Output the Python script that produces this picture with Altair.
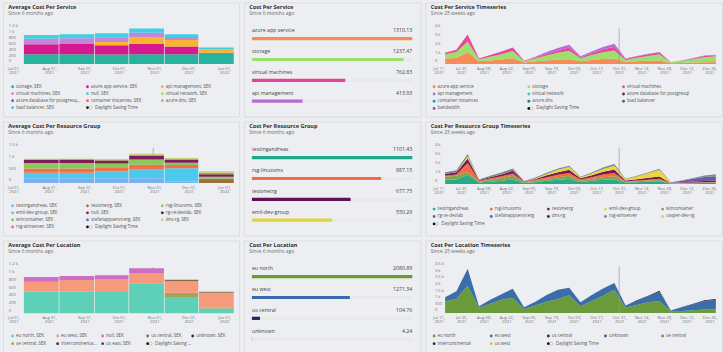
import math
import altair as alt
import pandas as pd

FONT = "Open Sans"
TITLE_C = "#2e2e2e"
SUB_C = "#6c6c6c"
LABEL_C = "#555555"
AXIS_C = "#707070"
DST_NAME = "Daylight Saving Time"

# ---------------- time keys ----------------
BAR_START = ["2021-07-10", "2021-08-10", "2021-09-10", "2021-10-10", "2021-11-10", "2021-12-10"]
BAR_END = ["2021-08-10", "2021-09-10", "2021-10-10", "2021-11-10", "2021-12-10", "2022-01-10"]
MONTH_TICKS = ["2021-07-01", "2021-08-01", "2021-09-01", "2021-10-01", "2021-11-01", "2021-12-01", "2022-01-01"]
WEEKS = ["2021-07-15", "2021-07-22", "2021-07-29", "2021-08-05", "2021-08-12", "2021-08-19", "2021-08-26",
         "2021-09-02", "2021-09-09", "2021-09-16", "2021-09-23", "2021-09-30", "2021-10-07", "2021-10-14",
         "2021-10-21", "2021-10-28", "2021-11-04", "2021-11-11", "2021-11-18", "2021-11-25", "2021-12-02",
         "2021-12-09", "2021-12-16", "2021-12-23", "2021-12-30"]
BIWEEK_TICKS = ["2021-07-11", "2021-07-25", "2021-08-08", "2021-08-22", "2021-09-05", "2021-09-19", "2021-10-03",
                "2021-10-17", "2021-10-31", "2021-11-14", "2021-11-28", "2021-12-12", "2021-12-26"]
DST_DATE = "2021-10-31"

# ---------------- Panel A: Average Cost Per Service ----------------
A_SERIES = ["storage, SEK", "azure app service, SEK", "api management, SEK", "virtual machines, SEK", "null, SEK"]
A_STORAGE = [330, 330, 320, 330, 330, 350]
A_APP_SERVICE = [330, 340, 305, 340, 260, 30]
A_API_MGMT = [0, 0, 115, 215, 215, 105]
A_VMS = [190, 195, 160, 160, 100, 0]
A_NULL = [125, 135, 135, 145, 90, 65]
A_LEGEND = ["storage, SEK", "azure app service, SEK", "api management, SEK", "virtual machines, SEK",
            "null, SEK", "virtual network, SEK", "azure database for postgresql, SEK",
            "container instances, SEK", "azure dns, SEK", "load balancer, SEK", DST_NAME]
A_COLORS = ["#28b39f", "#d5198f", "#f9b62c", "#c784dc", "#3fd0e3", "#9be36b", "#a53dbf",
            "#f7663e", "#f88c6f", "#36c9cc", "#111111"]
A_YTICKS = [0, 200, 400, 600, 800, 1000, 1200]

# ---------------- Panel B: Cost Per Service ----------------
B_NAMES = ["azure app service", "storage", "virtual machines", "api management"]
B_VALUES = [1310.13, 1237.47, 762.83, 413.93]
B_COLORS = ["#f98b5b", "#9ddf6b", "#e2449c", "#bb69d3"]

# ---------------- Panel C: Cost Per Service Timeseries ----------------
C_SERIES = ["azure app service", "storage", "virtual machines", "api management"]
C_APP_SERVICE = [600, 670, 1330, 300, 400, 500, 650, 170, 300, 400, 500, 520, 300, 450, 550, 600, 200, 300, 350, 400, 80, 120, 170, 200, 220]
C_STORAGE = [480, 670, 1190, 200, 400, 600, 800, 120, 300, 550, 750, 960, 350, 550, 750, 900, 250, 400, 550, 700, 70, 200, 350, 550, 630]
C_VMS = [180, 260, 780, 100, 200, 300, 400, 80, 100, 200, 280, 370, 100, 200, 350, 440, 100, 150, 200, 200, 30, 50, 100, 130, 100]
C_API_MGMT = [0, 0, 0, 0, 0, 0, 0, 0, 100, 180, 270, 300, 100, 200, 250, 320, 50, 50, 50, 30, 0, 30, 50, 80, 90]
C_LEGEND = ["azure app service", "storage", "virtual machines", "api management", "virtual network",
            "azure database for postgresql", "container instances", "azure dns", "load balancer",
            "bandwidth", DST_NAME]
C_COLORS = ["#f98b5b", "#9ddf6b", "#e5489e", "#bb69d3", "#3fc9c1", "#7a1458", "#1a9e9e",
            "#17807a", "#3d7a2c", "#9a4ab8", "#111111"]
C_YTICKS = [0, 1000, 2000, 3000, 4000]

# ---------------- Panel D: Average Cost Per Resource Group ----------------
D_SERIES = ["testvnetrg, SEK", "testingandreas, SEK", "emil-dev-group, SEK", "rsg-winserver, SEK",
            "rsg-linuxvms, SEK", "null, SEK", "wincontainer, SEK", "dns-rg, SEK"]
D_TESTVNETRG = [0, 0, 0, 0, 0, 180]
D_TESTINGANDREAS = [195, 195, 195, 195, 60, 0]
D_EMIL_DEV = [235, 235, 300, 380, 560, 0]
D_RSG_WINSERVER = [180, 180, 140, 200, 140, 0]
D_RSG_LINUXVMS = [235, 235, 190, 220, 100, 80]
D_NULL = [140, 140, 130, 160, 120, 110]
D_WINCONTAINER = [25, 30, 40, 50, 40, 70]
D_DNS_RG = [15, 15, 20, 35, 40, 55]
D_LEGEND = ["testingandreas, SEK", "testvnetrg, SEK", "rsg-linuxvms, SEK", "emil-dev-group, SEK",
            "null, SEK", "rg-ce-devlab, SEK", "wincontainer, SEK", "stefanappservicerg, SEK",
            "dns-rg, SEK", "rsg-winserver, SEK", DST_NAME]
D_COLORS = ["#7aaff2", "#9c6f3c", "#8cc95b", "#4dc9ec", "#801b5c", "#2a2446", "#a3b52a", "#4f6fd0",
            "#c3d172", "#f2704a", "#111111"]
D_YTICKS = [0, 500, 1000, 1500]

# ---------------- Panel E: Cost Per Resource Group ----------------
E_NAMES = ["testingandreas", "rsg-linuxvms", "testvnetrg", "emil-dev-group"]
E_VALUES = [1101.43, 887.15, 677.75, 550.29]
E_COLORS = ["#1fa98b", "#f46b45", "#5c1452", "#e2d535"]

# ---------------- Panel F: Cost Per Resource Group Timeseries ----------------
F_SERIES = ["testingandreas", "wincontainer", "rsg-linuxvms", "testvnetrg", "emil-dev-group",
            "rg-ce-devlab", "rsg-winserver"]
F_TESTINGANDREAS = [450, 500, 1000, 150, 250, 350, 500, 100, 200, 350, 450, 550, 200, 350, 450, 500, 150, 200, 250, 300, 30, 60, 80, 100, 100]
F_WINCONTAINER = [350, 400, 300, 100, 200, 300, 400, 80, 150, 200, 300, 350, 150, 200, 300, 350, 80, 100, 120, 150, 20, 30, 40, 50, 60]
F_RSG_LINUXVMS = [100, 150, 1000, 100, 150, 200, 250, 50, 100, 200, 250, 300, 150, 200, 300, 350, 50, 80, 100, 120, 20, 30, 40, 50, 50]
F_TESTVNETRG = [200, 250, 500, 80, 150, 200, 300, 50, 100, 200, 300, 350, 120, 200, 300, 400, 100, 150, 200, 250, 40, 80, 100, 120, 150]
F_EMIL_DEV = [0, 0, 250, 0, 0, 0, 0, 0, 50, 150, 250, 300, 100, 200, 300, 400, 150, 300, 500, 750, 20, 0, 0, 0, 0]
F_RG_CE_DEVLAB = [0, 0, 0, 0, 0, 0, 0, 0, 0, 0, 0, 0, 0, 0, 0, 0, 0, 0, 0, 0, 30, 150, 300, 450, 500]
F_RSG_WINSERVER = [190, 200, 250, 70, 150, 200, 250, 50, 100, 130, 150, 150, 80, 100, 150, 180, 50, 70, 80, 100, 20, 50, 100, 150, 220]
F_LEGEND = ["testingandreas", "rsg-linuxvms", "testvnetrg", "emil-dev-group", "wincontainer",
            "rg-ce-devlab", "stefanappservicerg", "dns-rg", "rsg-winserver", "casper-dev-rg", DST_NAME]
F_COLORS = ["#2aa98b", "#f46b45", "#7c1a4e", "#ead83c", "#79a94a", "#6a5aa8", "#4e6ac4", "#3a1f4e",
            "#7d8a93", "#c9d94a", "#111111"]

# ---------------- Panel G: Average Cost Per Location ----------------
G_SERIES = ["eu north, SEK", "se central, SEK", "eu west, SEK", "null, SEK", "us central, SEK"]
G_EU_NORTH = [556, 556, 548, 775, 420, 120]
G_SE_CENTRAL = [0, 0, 0, 0, 110, 20]
G_EU_WEST = [260, 305, 340, 270, 300, 390]
G_NULL = [122, 105, 100, 120, 0, 0]
G_US_CENTRAL = [0, 0, 0, 0, 40, 25]
G_LEGEND = ["eu north, SEK", "eu west, SEK", "null, SEK", "us central, SEK", "unknown, SEK",
            "se central, SEK", "intercontinental, SEK", "us east, SEK", DST_NAME]
G_COLORS = ["#5fd0b8", "#f59b7b", "#cc6fc4", "#8a6a3c", "#2c2a6a", "#a7a257", "#3a2a6a", "#4a4a4a", "#111111"]
G_YTICKS = [0, 200, 400, 600, 800, 1000, 1200]

# ---------------- Panel H: Cost Per Location ----------------
H_NAMES = ["eu north", "eu west", "us central", "unknown"]
H_VALUES = [2080.89, 1271.34, 104.76, 4.24]
H_COLORS = ["#6b9a2f", "#3b69ae", "#27205e", "#9b8cc4"]

# ---------------- Panel I: Cost Per Location Timeseries ----------------
I_SERIES = ["eu north", "eu west", "us central"]
I_EU_NORTH = [880, 1050, 2050, 380, 700, 1000, 1130, 300, 550, 850, 1050, 1330, 500, 900, 1300, 1750, 400, 600, 800, 900, 120, 150, 200, 250, 250]
I_EU_WEST = [300, 580, 1280, 120, 300, 400, 700, 130, 300, 500, 700, 570, 300, 450, 550, 500, 150, 300, 450, 700, 60, 280, 460, 650, 750]
I_US_CENTRAL = [0, 0, 0, 0, 0, 0, 0, 0, 0, 0, 0, 0, 0, 0, 0, 0, 0, 50, 50, 80, 0, 20, 40, 50, 50]
I_LEGEND = ["eu north", "eu west", "us central", "unknown", "se central", "intercontinental", "us west", DST_NAME]
I_COLORS = ["#6b9a3a", "#3a6ea8", "#241f4e", "#55458e", "#8a8a3a", "#2a2a4a", "#c8c83a", "#111111"]
I_YTICKS = [0, 500, 1000, 1500, 2000, 2500, 3000, 3500]

KFMT = "datum.value >= 1000 ? format(datum.value / 1000, '~g') + ' k' : format(datum.value, 'd')"
DATEFMT = "[timeFormat(datum.value, '%b %d,'), timeFormat(datum.value, '%Y')]"


def dt(s):
    y, m, d = (int(p) for p in s.split("-"))
    return alt.DateTime(year=y, month=m, date=d)


def title_params(text, sub):
    return alt.TitleParams(text=text, subtitle=sub, anchor="start", frame="group", orient="top",
                           offset=-14, dx=5.3, font=FONT, fontSize=5.6, fontWeight="bold", color=TITLE_C,
                           subtitleFont=FONT, subtitleFontSize=5, subtitleColor=SUB_C, subtitlePadding=1.2)


def x_axis(ticks, offset):
    return alt.Axis(values=[dt(t) for t in ticks], labelExpr=DATEFMT, labelFont=FONT, labelFontSize=4.2,
                    labelLineHeight=4.4, labelColor=AXIS_C, labelPadding=2.3, labelFlush=False,
                    labelOverlap=False, labelBaseline="top", labelAlign="center", ticks=False, tickSize=0,
                    domain=False, grid=False, offset=offset, title=None)


def y_axis(ticks, offset):
    return alt.Axis(values=ticks, labelExpr=KFMT, labelFont=FONT, labelFontSize=4.2, labelColor=AXIS_C,
                    labelAlign="left", labelBaseline="bottom", labelPadding=0, labelOffset=-1,
                    labelOverlap=False, ticks=False, tickSize=0, domain=False, grid=False,
                    offset=offset, title=None)


def legend_layers(names, colors, x0, pitch, ncols, y0, rowh, limit):
    nrows = math.ceil(len(names) / ncols)
    df = pd.DataFrame({
        "series": names,
        "col": [i % ncols for i in range(len(names))],
        "row": [i // ncols for i in range(len(names))],
        "dst": [n == DST_NAME for n in names],
    })
    xs = alt.Scale(domain=[0, ncols], range=[x0, x0 + ncols * pitch], zero=False, nice=False)
    ys = alt.Scale(domain=[0, nrows], range=[y0, y0 + nrows * rowh], zero=False, nice=False)
    color = alt.Color("series:N", scale=alt.Scale(domain=names, range=colors), legend=None)
    base = alt.Chart(df).encode(x=alt.X("col:Q", scale=xs, axis=None), y=alt.Y("row:Q", scale=ys, axis=None))
    dots = base.mark_circle(size=8, opacity=1).encode(color=color)
    ring = base.transform_filter("datum.dst").mark_circle(size=8, opacity=1, fill="white", stroke="#777777",
                                                          strokeWidth=0.4, xOffset=3)
    txt = base.transform_filter("!datum.dst").mark_text(align="left", baseline="middle", dx=3.5, fontSize=4.5,
                                                        font=FONT, color=LABEL_C, limit=limit).encode(text="series:N")
    txt_dst = base.transform_filter("datum.dst").mark_text(align="left", baseline="middle", dx=7.5, fontSize=4.5,
                                                           font=FONT, color=LABEL_C, limit=limit).encode(text="series:N")
    return [dots, ring, txt, txt_dst]


def month_panel(title, names, values, legend_names, legend_colors, ymax, yticks, zero_px, top_px,
                width, height, lx0, lpitch, ncols, ly0, lrow, limit):
    rows = []
    for order, (name, vals) in enumerate(zip(names, values)):
        for s, e, v in zip(BAR_START, BAR_END, vals):
            rows.append({"series": name, "start": s, "end": e, "value": v, "order": order})
    df = pd.DataFrame(rows)
    df["start"] = pd.to_datetime(df["start"])
    df["end"] = pd.to_datetime(df["end"])
    color = alt.Color("series:N", scale=alt.Scale(domain=legend_names, range=legend_colors), legend=None)
    xs = alt.Scale(type="time", domain=[dt(MONTH_TICKS[0]), dt(MONTH_TICKS[-1])], range=[10.7, 223])
    ys = alt.Scale(domain=[0, ymax], range=[zero_px, top_px], zero=False, nice=False)
    dst = pd.DataFrame({"date": pd.to_datetime([DST_DATE]), "lo": [0], "hi": [ymax]})
    rule = alt.Chart(dst).mark_rule(color="#9a9a9a", strokeWidth=0.7).encode(
        x=alt.X("date:T", scale=xs, axis=None), y=alt.Y("lo:Q", scale=ys, axis=None), y2="hi:Q")
    bars = alt.Chart(df).transform_stack(
        stack="value", groupby=["start"], sort=[alt.SortField("order", order="ascending")], as_=["y0", "y1"]
    ).mark_rect(x2Offset=-0.7).encode(
        x=alt.X("start:T", scale=xs, axis=x_axis(MONTH_TICKS, -(height - zero_px))),
        x2="end:T",
        y=alt.Y("y0:Q", scale=ys, axis=y_axis(yticks, -5.3)),
        y2="y1:Q",
        color=color,
    )
    layers = [rule, bars] + legend_layers(legend_names, legend_colors, lx0, lpitch, ncols, ly0, lrow, limit)
    return alt.layer(*layers).resolve_scale(x="independent", y="independent").properties(
        width=width, height=height, title=title_params(title, "Since 6 months ago"))


def ts_panel(title, names, values, legend_names, legend_colors, ymax, yticks, zero_px, top_px,
             width, height, lx0, lpitch, ncols, ly0, lrow, limit):
    rows = []
    for order, (name, vals) in enumerate(zip(names, values)):
        for d, v in zip(WEEKS, vals):
            rows.append({"series": name, "date": d, "value": v, "order": order})
    df = pd.DataFrame(rows)
    df["date"] = pd.to_datetime(df["date"])
    color = alt.Color("series:N", scale=alt.Scale(domain=legend_names, range=legend_colors), legend=None)
    xs = alt.Scale(type="time", domain=[dt(BIWEEK_TICKS[0]), dt(BIWEEK_TICKS[-1])], range=[13.3, 286.3])
    ys = alt.Scale(domain=[0, ymax], range=[zero_px, top_px], zero=False, nice=False)
    area = alt.Chart(df).transform_stack(
        stack="value", groupby=["date"], sort=[alt.SortField("order", order="ascending")], as_=["y0", "y1"]
    ).mark_area(interpolate="linear", opacity=1).encode(
        x=alt.X("date:T", scale=xs, axis=x_axis(BIWEEK_TICKS, -(height - zero_px))),
        y=alt.Y("y0:Q", scale=ys, axis=y_axis(yticks, -9)),
        y2="y1:Q",
        color=color,
    )
    dst = pd.DataFrame({"date": pd.to_datetime([DST_DATE]), "lo": [0], "hi": [ymax]})
    rule = alt.Chart(dst).mark_rule(color="#9a9a9a", strokeWidth=0.7).encode(
        x=alt.X("date:T", scale=xs, axis=None), y=alt.Y("lo:Q", scale=ys, axis=None), y2="hi:Q")
    layers = [area, rule] + legend_layers(legend_names, legend_colors, lx0, lpitch, ncols, ly0, lrow, limit)
    return alt.layer(*layers).resolve_scale(x="independent", y="independent").properties(
        width=width, height=height, title=title_params(title, "Since 25 weeks ago"))


def list_panel(title, names, values, colors, width, height):
    df = pd.DataFrame({"name": names, "value": values, "idx": list(range(len(names)))})
    xs = alt.Scale(domain=[0, max(values)], range=[8, 169.7], zero=False, nice=False)
    ys = alt.Scale(domain=[0, 3], range=[28, 91], zero=False, nice=False)
    color = alt.Color("name:N", scale=alt.Scale(domain=names, range=colors), legend=None)
    base = alt.Chart(df).transform_joinaggregate(maxv="max(value)").transform_calculate(zero="0").encode(
        y=alt.Y("idx:Q", scale=ys, axis=None))
    track = base.mark_rule(strokeWidth=3.2, color="#e9e9e9", yOffset=8.5).encode(
        x=alt.X("zero:Q", scale=xs, axis=None), x2="maxv:Q")
    bar = base.mark_rule(strokeWidth=3.2, yOffset=8.5).encode(
        x=alt.X("zero:Q", scale=xs, axis=None), x2="value:Q", color=color)
    label = base.mark_text(align="left", baseline="middle", fontSize=5.3, font=FONT, color="#444444").encode(
        x=alt.X("zero:Q", scale=xs, axis=None), text="name:N")
    val = base.mark_text(align="right", baseline="middle", fontSize=5.3, font=FONT, color="#444444").encode(
        x=alt.X("maxv:Q", scale=xs, axis=None), text=alt.Text("value:Q", format=".2f"))
    return alt.layer(track, bar, label, val).properties(
        width=width, height=height, title=title_params(title, "Since 6 months ago"))


W1, W2, W3 = 238, 178, 299
H1, H2, H3 = 115, 115, 116

A = month_panel("Average Cost Per Service", A_SERIES,
                [A_STORAGE, A_APP_SERVICE, A_API_MGMT, A_VMS, A_NULL],
                A_LEGEND, A_COLORS, 1200, A_YTICKS, 62, 26, W1, H1, 9.7, 75.5, 3, 85, 7, 66)
B = list_panel("Cost Per Service", B_NAMES, B_VALUES, B_COLORS, W2, H1)
C = ts_panel("Cost Per Service Timeseries", C_SERIES, [C_APP_SERVICE, C_STORAGE, C_VMS, C_API_MGMT],
             C_LEGEND, C_COLORS, 4000, C_YTICKS, 62, 26, W3, H1, 8.7, 95.5, 3, 85, 7.3, 90)

D = month_panel("Average Cost Per Resource Group", D_SERIES,
                [D_TESTVNETRG, D_TESTINGANDREAS, D_EMIL_DEV, D_RSG_WINSERVER, D_RSG_LINUXVMS, D_NULL,
                 D_WINCONTAINER, D_DNS_RG],
                D_LEGEND, D_COLORS, 1500, D_YTICKS, 62, 26.3, W1, H2, 9.7, 75.5, 3, 85, 7.1, 66)
E = list_panel("Cost Per Resource Group", E_NAMES, E_VALUES, E_COLORS, W2, H2)
F = ts_panel("Cost Per Resource Group Timeseries", F_SERIES,
             [F_TESTINGANDREAS, F_WINCONTAINER, F_RSG_LINUXVMS, F_TESTVNETRG, F_EMIL_DEV, F_RG_CE_DEVLAB,
              F_RSG_WINSERVER],
             F_LEGEND, F_COLORS, 4000, C_YTICKS, 63, 26.3, W3, H2, 8.7, 57.6, 5, 88.3, 7.5, 48)

G = month_panel("Average Cost Per Location", G_SERIES,
                [G_EU_NORTH, G_SE_CENTRAL, G_EU_WEST, G_NULL, G_US_CENTRAL],
                G_LEGEND, G_COLORS, 1200, G_YTICKS, 73.3, 26.7, W1, H3, 9.7, 45.4, 5, 96.3, 7.7, 37)
H = list_panel("Cost Per Location", H_NAMES, H_VALUES, H_COLORS, W2, H3)
I = ts_panel("Cost Per Location Timeseries", I_SERIES, [I_EU_NORTH, I_EU_WEST, I_US_CENTRAL],
             I_LEGEND, I_COLORS, 3500, I_YTICKS, 73, 26.3, W3, H3, 8.7, 57.6, 5, 96.3, 7.7, 48)

row1 = alt.hconcat(A, B, C, spacing=3).resolve_scale(color="independent")
row2 = alt.hconcat(D, E, F, spacing=3).resolve_scale(color="independent")
row3 = alt.hconcat(G, H, I, spacing=3).resolve_scale(color="independent")

chart = alt.vconcat(row1, row2, row3, spacing=3).resolve_scale(color="independent").properties(
    padding={"left": 2, "top": 0, "right": 0, "bottom": 0},
    background="#eceef1",
).configure_view(fill="white", strokeWidth=0).configure(font=FONT)

chart.save("out.html", embed_options={"renderer": "svg", "actions": False})
